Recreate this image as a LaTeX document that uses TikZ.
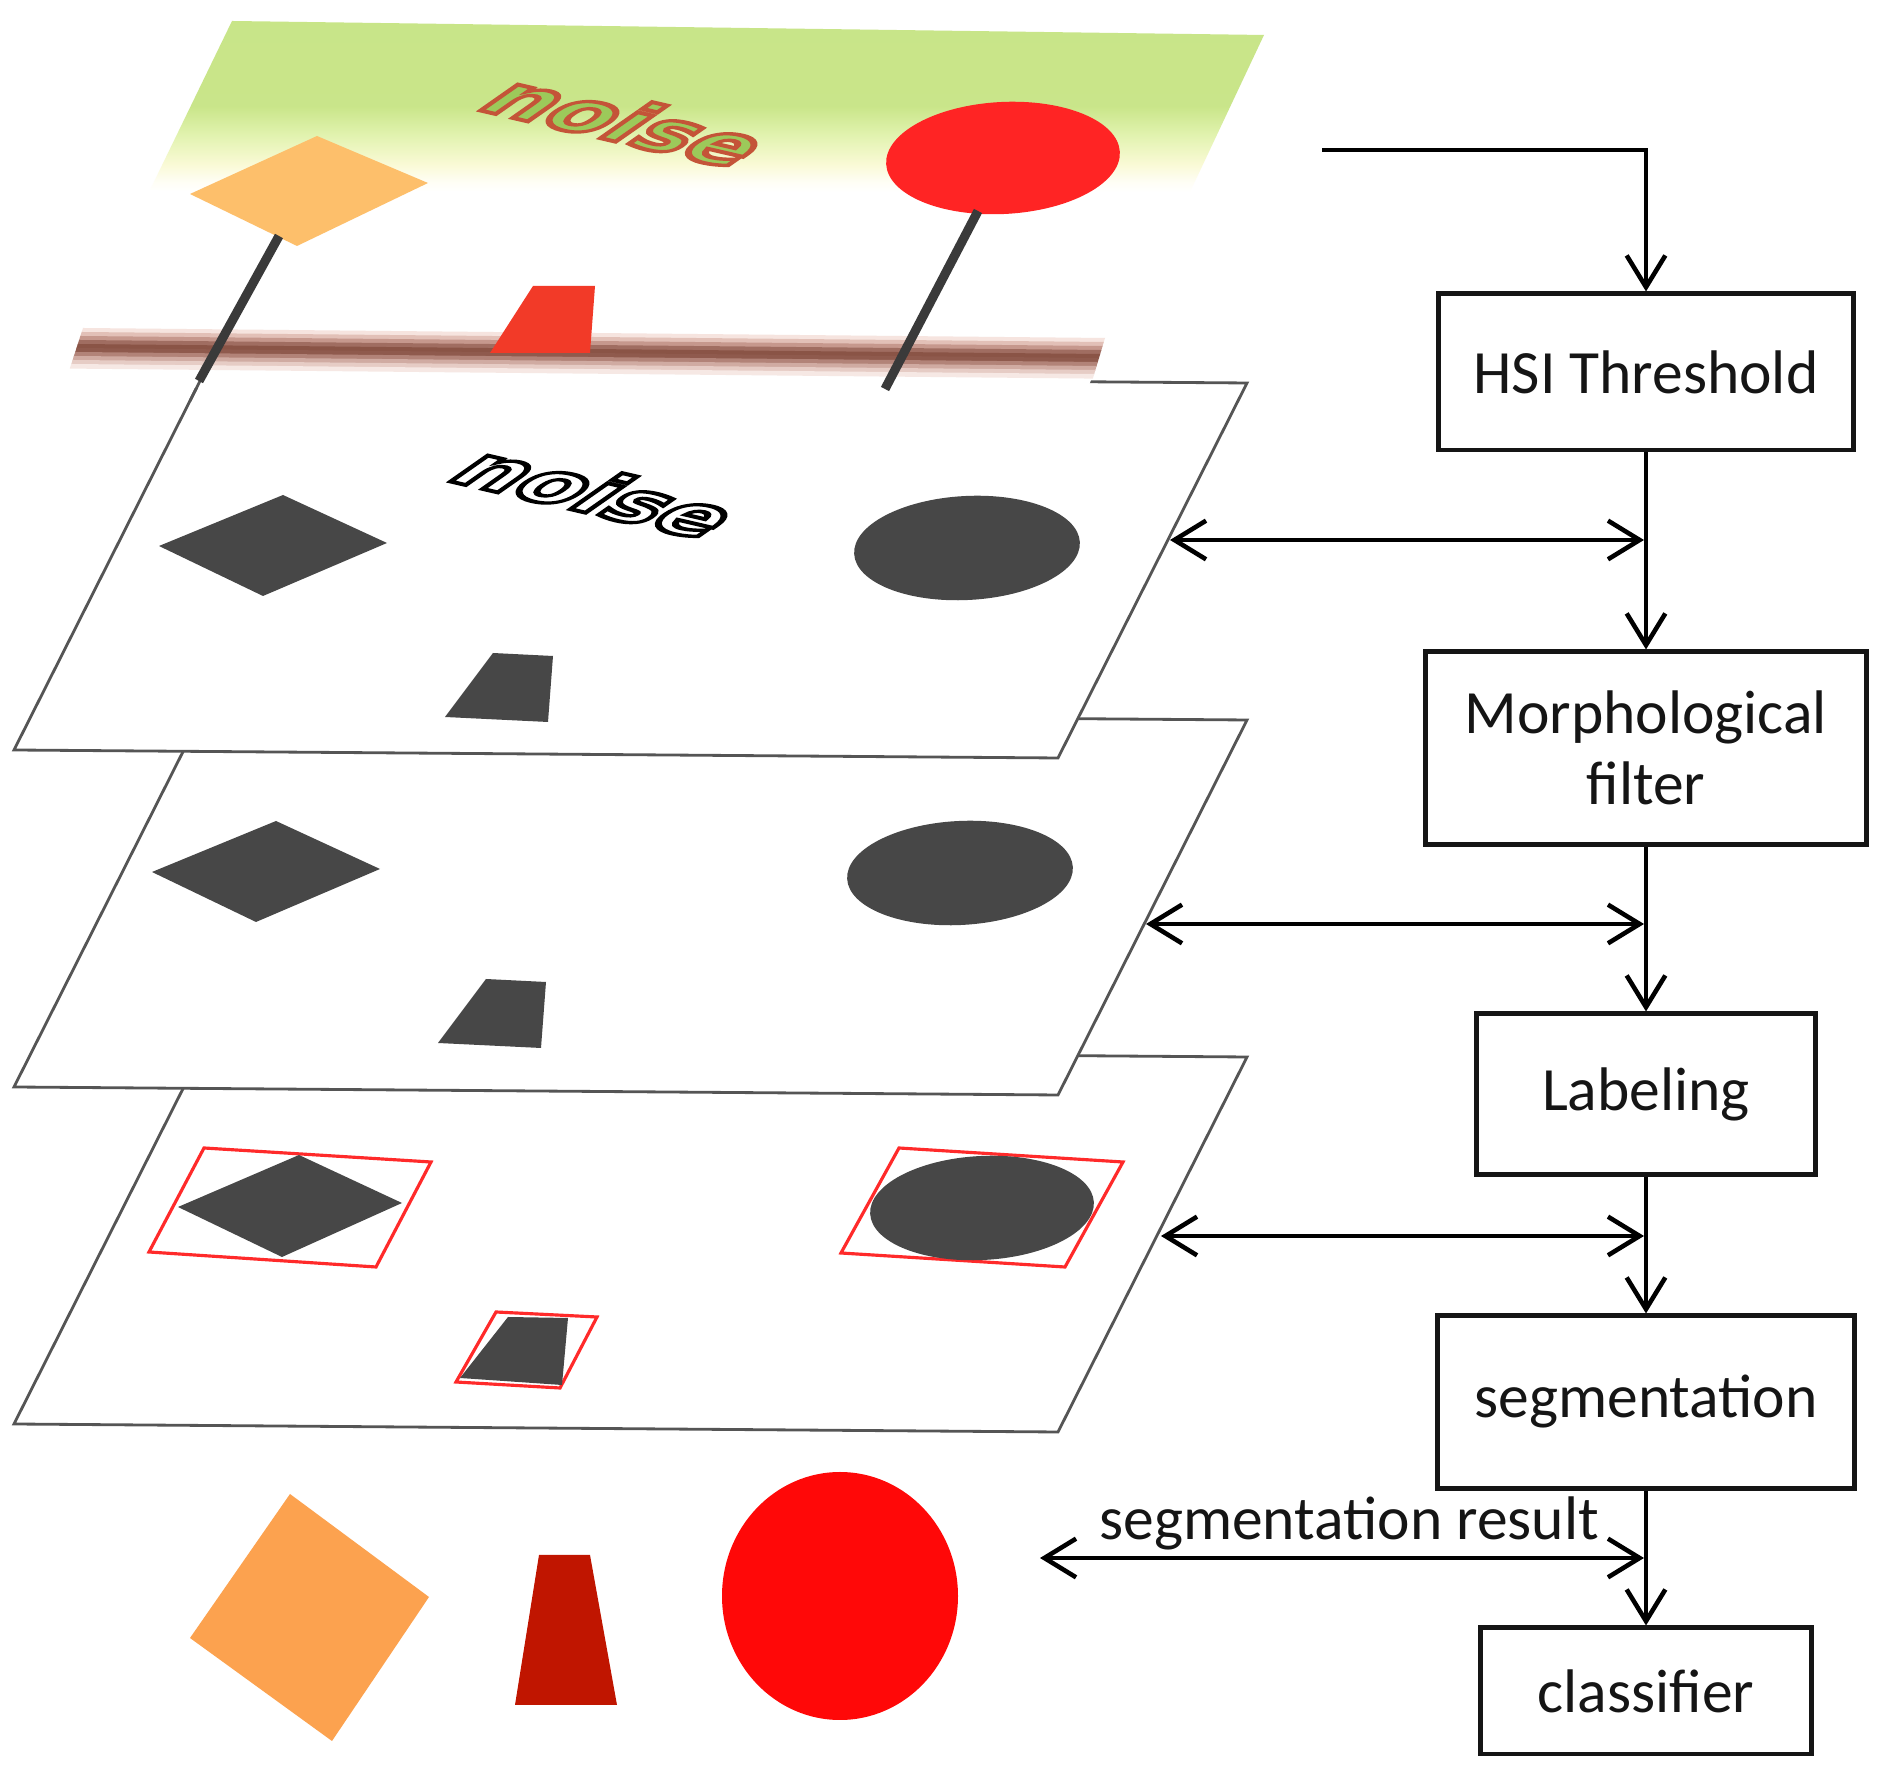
\documentclass[tikz,border=0pt]{standalone}
\usepackage{fontspec}
\setmainfont{Carlito}
\newfontfamily\noisefont{DejaVu Sans}
\usetikzlibrary{arrows.meta,calc}
\definecolor{orangeL}{HTML}{FDBF6B}
\definecolor{redtop}{HTML}{FF2424}
\definecolor{redtrap}{HTML}{F23A28}
\definecolor{darkshape}{HTML}{474747}
\definecolor{polegray}{HTML}{3A3A3A}
\definecolor{planegray}{HTML}{555555}
\definecolor{orangeB}{HTML}{FCA24F}
\definecolor{darkred}{HTML}{C01500}
\definecolor{redB}{HTML}{FF0808}
\definecolor{redbox}{HTML}{FF2A2A}
\definecolor{boxblack}{HTML}{151515}
\definecolor{noisein}{HTML}{9CC95A}
\definecolor{bar0}{HTML}{F6E4DF}
\definecolor{bar1}{HTML}{E2C0B7}
\definecolor{bar2}{HTML}{C6988D}
\definecolor{bar3}{HTML}{A06D61}
\definecolor{bar4}{HTML}{8A5446}
\definecolor{bar5}{HTML}{8F5A4D}
\definecolor{bar6}{HTML}{B28378}
\definecolor{bar7}{HTML}{D0ABA2}
\definecolor{bar8}{HTML}{E6CCC5}
\definecolor{bar9}{HTML}{F6E8E4}
\pgfdeclareverticalshading{greenfade}{100bp}{rgb(0bp)=(1,1,1); rgb(25bp)=(1,1,1); rgb(28bp)=(0.998,0.995,0.96); rgb(33bp)=(0.98,0.98,0.84); rgb(42bp)=(0.88,0.95,0.68); rgb(50bp)=(0.79,0.90,0.54); rgb(100bp)=(0.78,0.90,0.53)}
\newcommand\strokedtext[2]{\special{pdf:literal direct 2 Tr 1.6 w #1 RG}#2\special{pdf:literal direct 0 Tr}}
\begin{document}
\begin{tikzpicture}[x=0.01cm,y=-0.01cm,
  plane/.style={fill=white,draw=planegray,line width=0.8pt,line join=miter},
  dshape/.style={fill=darkshape},
  pole/.style={draw=polegray,line width=2.6pt},
  rbox/.style={draw=redbox,line width=0.9pt},
  flowbox/.style={draw=boxblack,line width=1.4pt,fill=white,align=center,inner sep=0pt,
    font=\fontsize{17.5}{20}\selectfont,text=boxblack},
  arr/.style={line width=1.3pt,draw=black,-{Straight Barb[length=9pt,width=11pt]}},
  darr/.style={line width=1.3pt,draw=black,{Straight Barb[length=9pt,width=11pt]}-{Straight Barb[length=9pt,width=11pt]}},
  noisetxt/.style={inner sep=0pt,font=\noisefont\bfseries\fontsize{25}{25}\selectfont,rotate=-13,xslant=0.9,yscale=0.7}
]
\useasboundingbox[fill=white] (0,0) rectangle (1881,1786);

% ---------- plane 3 ----------
\draw[plane] (14,1424) -- (1058,1432) -- (1247,1057) -- (203,1049) -- cycle;
\draw[rbox] (149,1252) -- (204,1148) -- (431,1162) -- (376,1267) -- cycle;
\draw[rbox] (841,1253) -- (899,1148) -- (1123,1162) -- (1065,1267) -- cycle;
\draw[rbox] (456,1382) -- (496,1312) -- (597,1317) -- (560,1388) -- cycle;
\fill[dshape] (178,1207) -- (299,1155) -- (402,1203) -- (282,1257) -- cycle;
\fill[dshape,rotate around={3:(982,1208)}] (982,1208) ellipse [x radius=112,y radius=52];
\fill[dshape] (460,1378) -- (508,1317) -- (568,1318) -- (562,1385) -- cycle;

% ---------- plane 2 ----------
\draw[plane] (14,1087) -- (1058,1095) -- (1247,720) -- (203,712) -- cycle;
\fill[dshape] (152,872) -- (276,821) -- (380,869) -- (256,922) -- cycle;
\fill[dshape,rotate around={3:(960,873)}] (960,873) ellipse [x radius=113,y radius=52];
\fill[dshape] (438,1043) -- (486,979) -- (546,982) -- (541,1048) -- cycle;

% ---------- plane 1 ----------
\draw[plane] (14,750) -- (1058,758) -- (1247,383) -- (203,375) -- cycle;
\fill[dshape] (159,546) -- (283,495) -- (387,543) -- (263,596) -- cycle;
\fill[dshape,rotate around={3:(967,548)}] (967,548) ellipse [x radius=113,y radius=52];
\fill[dshape] (445,717) -- (493,653) -- (553,656) -- (548,722) -- cycle;
\node[noisetxt,text=white] (noise1) at (598,492) {\strokedtext{0 0 0}{noise}};

% ---------- top layer ----------
\shade[shading=greenfade] (232,21) -- (1264,35) -- (1190,192) -- (150,190) -- cycle;
\node[noisetxt,text=noisein] (noise0) at (628,121) {\strokedtext{0.77 0.33 0.22}{noise}};
\fill[orangeL] (190,194) -- (317,136) -- (428,183) -- (297,246) -- cycle;
\fill[redtop,rotate around={3:(1003,158)}] (1003,158) ellipse [x radius=117,y radius=56];

% bar
\fill[white] (80,325) -- (1108,335) -- (1088,388) -- (60,388) -- cycle;
\foreach \i/\c in {0/bar0,1/bar1,2/bar2,3/bar3,4/bar4,5/bar5,6/bar6,7/bar7,8/bar8,9/bar9}{
  \fill[\c] ({83-0.325*4*\i},{328+4*\i}) -- ({1105-0.3*4*\i},{338+4*\i})
     -- ({1105-0.3*(4*\i+4.6)},{338+4*\i+4.6}) -- ({83-0.325*(4*\i+4.6)},{328+4*\i+4.6}) -- cycle;
}
\draw[planegray,line width=0.8pt] (203,375) -- (190,401);
\fill[redtrap] (490,353) -- (533,286) -- (595,286) -- (590,353) -- cycle;
\draw[pole] (279,236) -- (199,381);
\draw[pole] (978,211) -- (885,389);

% ---------- result shapes ----------
\fill[orangeB] (290,1494) -- (429,1597) -- (332,1741) -- (190,1638) -- cycle;
\fill[darkred] (539,1555) -- (590,1555) -- (617,1705) -- (515,1705) -- cycle;
\fill[redB] (840,1596) ellipse [x radius=118,y radius=124];

% ---------- flow chart ----------
\node[flowbox,minimum width=4.15cm,minimum height=1.56cm] (hsi) at (1646,372) {HSI Threshold};
\node[flowbox,minimum width=4.40cm,minimum height=1.92cm] (morph) at (1646,748) {Morphological\\filter};
\node[flowbox,minimum width=3.38cm,minimum height=1.60cm] (label) at (1646,1094) {Labeling};
\node[flowbox,minimum width=4.16cm,minimum height=1.72cm] (seg) at (1646,1402) {segmentation};
\node[flowbox,minimum width=3.31cm,minimum height=1.26cm] (cls) at (1646,1691) {classifier};

\coordinate (in) at (1322,150);
\draw[arr] (in) -| (hsi.north);
\draw[arr] (hsi.south) -- (morph.north);
\draw[arr] (morph.south) -- (label.north);
\draw[arr] (label.south) -- (seg.north);
\draw[arr] (seg.south) -- (cls.north);

\coordinate (e1) at (1170,540);
\coordinate (j1) at (1644,540);
\coordinate (e2) at (1146,924);
\coordinate (j2) at (1644,924);
\coordinate (e3) at (1161,1236);
\coordinate (j3) at (1644,1236);
\coordinate (e4) at (1040,1558);
\coordinate (j4) at (1644,1558);
\draw[darr] (e1) -- (j1);
\draw[darr] (e2) -- (j2);
\draw[darr] (e3) -- (j3);
\draw[darr] (e4) -- (j4);
\node[anchor=base,inner sep=0pt,font=\fontsize{17.5}{20}\selectfont,text=boxblack] (segres) at (1349,1540) {segmentation result};
\end{tikzpicture}
\end{document}
